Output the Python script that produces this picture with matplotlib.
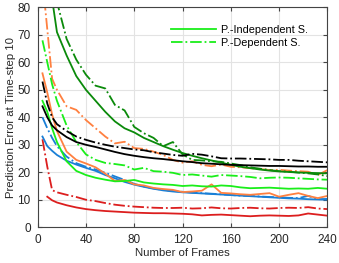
import numpy as np
import matplotlib
matplotlib.use('Agg')
import matplotlib.pyplot as plt

plt.rcParams['font.family'] = ['Liberation Sans', 'DejaVu Sans']

# frames on the x axis
frames = [4, 8, 12, 16, 24, 32, 40, 48, 56, 64, 72, 80, 88, 96, 104, 112, 120,
          128, 136, 144, 152, 160, 168, 176, 184, 192, 200, 208, 216, 224, 232, 240]

# prediction error per model (solid = P.-independent, dash-dot = P.-dependent)
red_ind = [np.nan, 11.1, 9.8, 9.0, 8.0, 7.2, 6.6, 6.2, 5.9, 5.7, 5.5, 5.3, 5.2, 5.1, 5.1, 5.0, 4.9,
           4.7, 4.3, 4.5, 4.6, 4.4, 4.2, 4.0, 4.2, 4.3, 4.2, 4.1, 4.3, 5.0, 4.6, 4.2]
red_dep = [32, 22, 13.5, 12.7, 11.8, 11.0, 10.0, 9.5, 8.8, 8.2, 7.8, 7.5, 7.3, 7.1, 7.0, 7.0, 7.1,
           6.8, 6.9, 7.2, 6.9, 6.8, 7.0, 7.1, 6.9, 6.8, 7.0, 7.1, 7.0, 7.3, 6.8, 6.6]
blue_ind = [33, 29.5, 27.8, 26.3, 24.2, 22.8, 21.6, 20.5, 19.0, 17.8, 16.5, 15.5, 14.7, 14.0, 13.4, 13.0, 12.7,
            12.5, 12.3, 12.1, 11.9, 11.7, 11.5, 11.3, 11.1, 10.9, 10.7, 10.5, 10.4, 10.2, 10.1, 10.0]
blue_dep = [40, 36, 32.5, 29.5, 25.7, 23.3, 22.0, 21.0, 19.8, 18.5, 17.2, 15.8, 14.8, 14.1, 13.6, 13.2, 12.9,
            12.6, 12.4, 12.2, 12.0, 11.7, 11.5, 11.4, 11.2, 11.0, 10.9, 10.7, 10.6, 11.4, 10.2, 10.3]
orange_ind = [56, 49, 41, 35, 27.5, 24.5, 23.2, 21.8, 19.5, 16.8, 17.2, 15.6, 15.2, 14.3, 13.9, 13.6, 12.8,
              13.0, 13.3, 15.6, 12.5, 12.3, 12.0, 11.8, 12.1, 12.4, 11.1, 11.8, 12.4, 11.4, 10.6, 11.4]
orange_dep = [90, 72, 54, 50, 44, 42.7, 39, 36, 33, 30.5, 31.1, 28.8, 28.5, 27.5, 26.3, 24.5, 23.5,
              24.0, 22.7, 22.2, 22.8, 22.0, 21.8, 21.5, 21.2, 20.8, 20.9, 20.6, 20.4, 20.2, 19.0, 20.8]
lime_ind = [46, 42, 36, 31, 24, 20.5, 19.0, 18.0, 17.3, 16.7, 16.8, 17.2, 16.3, 15.9, 15.6, 15.4, 15.0,
            15.2, 14.9, 14.8, 15.2, 15.0, 14.5, 14.2, 14.3, 14.4, 14.2, 14.0, 14.1, 14.0, 14.3, 14.0]
lime_dep = [68, 60, 52, 46, 37, 31, 26.5, 24.5, 23.4, 23.0, 22.5, 21.0, 21.6, 20.4, 20.2, 19.8, 19.0,
            19.2, 18.8, 18.4, 19.0, 18.8, 18.6, 18.3, 17.8, 18.0, 18.1, 18.0, 17.8, 17.6, 17.4, 17.3]
dgreen_ind = [125, 100, 83, 71, 62.5, 55, 50, 46, 42, 38.5, 36, 34.5, 32.5, 31, 29.5, 28.2, 27,
              26, 25.1, 24.3, 23.5, 22.7, 22, 21.5, 21, 20.6, 20.3, 20.1, 19.9, 19.8, 19.7, 19.6]
dgreen_dep = [140, 115, 95, 82, 68.5, 61, 55.5, 51.5, 50.5, 44.5, 42.5, 36.5, 34.2, 32.5, 29.5, 31, 26.5,
              24.5, 24.3, 24.0, 23.8, 23.2, 22.6, 21.8, 21.3, 20.8, 20.4, 20.2, 19.9, 19.6, 19.2, 18.6]
black_ind = [44, 40, 37, 35.3, 32.8, 31, 30, 29.2, 28.3, 27.4, 26.6, 26, 25.5, 25.1, 24.8, 24.4, 24,
             23.7, 23.3, 23.1, 22.9, 22.7, 22.6, 22.5, 22.4, 22.3, 22.3, 22.2, 22.1, 22.1, 22.0, 22.0]
black_dep = [53, 45, 40, 37.5, 35, 33, 31.8, 30.8, 30, 29.3, 28.8, 28.3, 28, 27.3, 26.8, 26.3, 26.0,
             26.7, 26.4, 25.8, 25.1, 25.0, 25.0, 24.9, 24.8, 24.7, 24.5, 24.5, 24.2, 24.0, 23.8, 23.6]

RED = '#dc1e1e'
BLUE = '#1a7fd6'
ORANGE = '#ff8040'
LIME = '#1aee1a'
DGREEN = '#0a8a0a'
BLACK = '#000000'

fig = plt.figure(figsize=(3.39, 2.63), dpi=100)
ax = fig.add_axes([0.111, 0.136, 0.855, 0.836])

lw = 1.3
series = [
    (red_ind, red_dep, RED),
    (blue_ind, blue_dep, BLUE),
    (orange_ind, orange_dep, ORANGE),
    (lime_ind, lime_dep, LIME),
    (dgreen_ind, dgreen_dep, DGREEN),
    (black_ind, black_dep, BLACK),
]
for ind, dep, c in series:
    if c == LIME:
        ax.plot(frames, ind, '-', color=c, lw=lw, label='P.-Independent S.')
        ax.plot(frames, dep, '-.', color=c, lw=lw, label='P.-Dependent S.')
    else:
        ax.plot(frames, ind, '-', color=c, lw=lw)
        ax.plot(frames, dep, '-.', color=c, lw=lw)

ax.set_xlim(0, 240)
ax.set_ylim(0, 80)
ax.set_xticks(np.arange(0, 241, 40))
ax.set_yticks(np.arange(0, 81, 10))
ax.grid(True, color='#e3e3e3', lw=0.8)
ax.set_axisbelow(True)
ax.tick_params(direction='in', top=True, right=True, labelsize=8.5, length=3,
               color='#444444', labelcolor='#262626')
ax.tick_params(axis='x', pad=5)
ax.tick_params(axis='y', pad=5)
for s in ax.spines.values():
    s.set_color('#444444')
    s.set_linewidth(0.8)

ax.set_xlabel('Number of Frames', fontsize=8.2, labelpad=1, color='#262626')
ax.set_ylabel('Prediction Error at Time-step 10', fontsize=8.2, labelpad=1, color='#262626')

ax.legend(loc='upper left', bbox_to_anchor=(0.46, 0.92), frameon=False, fontsize=7.8,
          handlelength=4.2, handletextpad=0.4, labelspacing=0.3, borderpad=0, borderaxespad=0)

fig.savefig('out.png', dpi=100)
